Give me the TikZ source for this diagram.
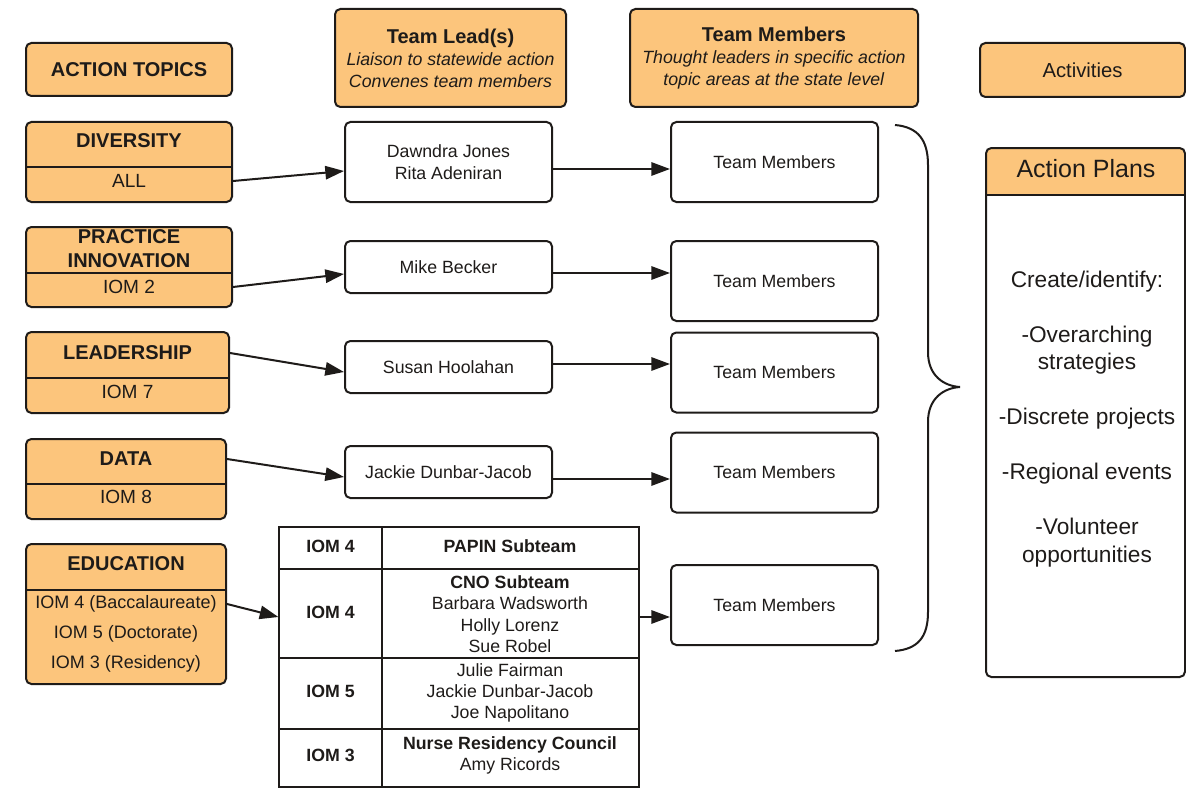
\documentclass[tikz,border=0pt]{standalone}
\usepackage{fontspec}
\setmainfont{Liberation Sans}
\usetikzlibrary{arrows.meta}
\definecolor{boxorange}{RGB}{252,197,124}
\definecolor{linecol}{RGB}{30,27,25}
\newcommand{\headfont}{\fontsize{15}{18}\selectfont\bfseries}
\newcommand{\topic}[7]{%
	% orange topic box split in two: title row on top, IOM row below
	\node[obox, boxsize={#2-26}{#5-#3}] (#1) at ({(26+#2)/2},{(#3+#5)/2}) {};
	\draw[bline] (26,#4) -- (#2,#4);
	\node[titletext] (#1t) at ({(26+#2)/2},#7) {#6};
}

\begin{document}
\begin{tikzpicture}[x=0.75pt, y=-0.75pt, font=\fontsize{13.3}{16}\selectfont, text=linecol,
	boxsize/.style 2 args={minimum width={(#1)*\px}, minimum height={(#2)*\px}},
	bline/.style={draw=linecol, line width=1.5pt},
	obox/.style={bline, fill=boxorange, rounded corners=4pt, inner sep=0pt},
	wbox/.style={bline, fill=white, rounded corners=4pt, inner sep=0pt, align=center},
	titletext/.style={font=\headfont, align=center, inner sep=0pt},
	subtext/.style={font=\fontsize{14.3}{17}\selectfont, inner sep=0pt},
	cell/.style={align=center, inner sep=0pt},
	tline/.style={draw=linecol, line width=0.9pt},
	arr/.style={bline, -{Triangle[length=14pt, width=10pt]}}]
	\def\px{0.75pt} % one pixel of the layout
	\useasboundingbox (0,0) rectangle (1186,792);
	
	%--- column headers ---
	\node[obox, boxsize={206}{53}, titletext] (topics) at (129,69.5) {ACTION TOPICS};
	\node[obox, boxsize={231}{98}, align=center, font=\fontsize{13.3}{16.5}\selectfont] (leadhd) at (450.5,58)
		{{\headfont Team Lead(s)}\\\textit{Liaison to statewide action}\\\textit{Convenes team members}};
	\node[obox, boxsize={288}{98}, align=center, font=\fontsize{13.3}{16.5}\selectfont] (memhd) at (774,58)
		{{\headfont Team Members}\\\textit{Thought leaders in specific action}\\\textit{topic areas at the state level}};
	\node[obox, boxsize={205}{54}, font=\fontsize{15.2}{18}\selectfont] (act) at (1082.5,70) {Activities};
	
	%--- action topics (left column) ---
	\topic{div}{232}{122}{167}{202}{DIVERSITY}{141}
	\topic{prac}{232}{227}{273}{307}{PRACTICE\\INNOVATION}{249}
	\topic{ldr}{229}{332}{378}{413}{LEADERSHIP}{353}
	\topic{data}{226}{439}{484}{519}{DATA}{459}
	\topic{edu}{226}{544}{590}{684}{EDUCATION}{564}
	% IOM rows
	\foreach \n/\t/\x/\y in {div/ALL/129/181, prac/IOM 2/129/287, ldr/IOM 7/127.5/392, data/IOM 8/126/497}
		\node[subtext] (sub\n) at (\x,\y) {\t};
	\foreach \t [count=\k] in {IOM 4 (Baccalaureate), IOM 5 (Doctorate), IOM 3 (Residency)}
		\node[subtext, font=\fontsize{13.5}{16}\selectfont] (edu\k) at (126,574+30*\k) {\t};
	
	%--- team leads ---
	\node[wbox, boxsize={207}{80}] (l1) at (448.5,162) {Dawndra Jones\\Rita Adeniran};
	\node[wbox, boxsize={207}{52}] (l2) at (448.5,267) {Mike Becker};
	\node[wbox, boxsize={207}{52}] (l3) at (448.5,367) {Susan Hoolahan};
	\node[wbox, boxsize={207}{52}] (l4) at (448.5,472) {Jackie Dunbar-Jacob};
	
	%--- team members ---
	\foreach \k/\y in {1/162, 2/281, 3/372.5, 4/472.5, 5/605}
		\node[wbox, boxsize={207}{80}] (m\k) at (774.5,\y) {Team Members};
	
	%--- education subteams table ---
	\node[tline, boxsize={360}{260}, inner sep=0pt] (tbl) at (459,657) {};
	\foreach \y in {569,658,729}
		\draw[tline] (279,\y) -- (639,\y);
	\draw[tline] (382,527) -- (382,787);
	\foreach \t/\y [count=\k] in {IOM 4/546, IOM 4/612, IOM 5/691, IOM 3/755}
		\node[cell, font=\fontsize{13.3}{16}\selectfont\bfseries] (iom\k) at (330.5,\y) {\t};
	\node[cell] (team1) at (510,546) {\textbf{PAPIN Subteam}};
	\node[cell] (team2) at (510,614) {\textbf{CNO Subteam}\\Barbara Wadsworth\\Holly Lorenz\\Sue Robel};
	\node[cell] (team3) at (510,693) {Julie Fairman\\Jackie Dunbar-Jacob\\Joe Napolitano};
	\node[cell] (team4) at (510,755.5) {\textbf{Nurse Residency Council}\\Amy Ricords};
	
	%--- arrows ---
	% topics -> leads
	\foreach \bx/\row/\ld/\dy in {div/subdiv/l1/-9, prac/subprac/l2/-7, ldr/ldrt/l3/-5, data/datat/l4/-5}
		\draw[arr] (\bx.east |- \row) -- ([yshift=\dy*\px]\ld.west);
	% leads -> team members
	\foreach \k/\dy in {1/-7, 2/-6, 3/3, 4/-7}
		\draw[arr] ([yshift=\dy*\px]l\k.east) -- ([yshift=\dy*\px]l\k.east -| m\k.west);
	% education -> table -> team members
	\draw[arr] (edu.east |- edu1) -- ([yshift=-5*\px]tbl.west |- iom2);
	\draw[arr] ([yshift=-5*\px]tbl.east |- iom2) -- ([yshift=-5*\px]m5.west |- iom2);
	
	%--- brace gathering all teams ---
	\draw[bline] (895,125) .. controls (918,127) and (928,140) .. (928,165) -- (928,352)
		.. controls (928,376) and (944,386) .. (960,387)
		.. controls (944,388) and (928,398) .. (928,422) -- (928,612)
		.. controls (928,637) and (918,649) .. (895,651);
	
	%--- action plans ---
	\begin{scope}
		\clip[rounded corners=4pt] (986,148) rectangle (1185,677);
		\fill[boxorange] (986,148) rectangle (1185,195);
	\end{scope}
	\node[bline, rounded corners=4pt, inner sep=0pt, boxsize={199}{529}] (plans) at (1085.5,412.5) {};
	\draw[bline] (986,195) -- (1185,195);
	\node[font=\fontsize{18.75}{22}\selectfont, inner sep=0pt] (planhd) at (1086,169) {Action Plans};
	\node[font=\fontsize{17}{20.6}\selectfont, align=center, inner sep=0pt] (plantxt) at (1087,419)
		{Create/identify:\\[20.6pt]-Overarching\\strategies\\[20.6pt]-Discrete projects\\[20.6pt]-Regional events\\[20.6pt]-Volunteer\\opportunities};
\end{tikzpicture}
\end{document}
